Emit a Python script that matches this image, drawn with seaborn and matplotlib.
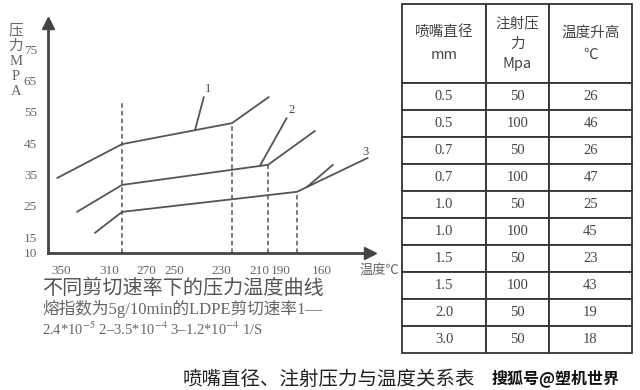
import matplotlib
matplotlib.use('Agg')
import matplotlib.pyplot as plt
import pandas as pd
import seaborn as sns

# ---- chart data (x in tick-index units along the temperature axis, y in MPa) ----
temp_labels = ['350', '310', '270', '250', '230', '210', '190', '160']
p_ticks = [15, 25, 35, 45, 55, 65, 75]

curve1_x = [-0.27, 1.50, 4.50, 5.50]
curve1_y = [33.9, 44.7, 51.4, 59.7]
curve2_x = [0.27, 1.50, 5.48, 6.76]
curve2_y = [23.1, 31.7, 38.1, 48.9]
curve3_x = [0.76, 1.50, 6.27, 8.20]
curve3_y = [16.4, 23.1, 29.5, 40.3]

# leader lines from each curve to its number
leader1_x, leader1_y = [3.49, 3.73], [49.2, 59.7]
leader2_x, leader2_y = [5.26, 5.99], [37.8, 53.0]
leader3_x, leader3_y = [6.54, 7.25], [31.0, 38.1]

# dashed drop lines at the break points
drop_x = [1.50, 4.50, 5.48, 6.27]
drop_top = [57.8, 51.4, 38.1, 29.5]

# ---- table data ----
headers = ['喷嘴直径\nmm', '注射压\n力\nMpa', '温度升高\n℃']
nozzle_d = ['0.5', '0.5', '0.7', '0.7', '1.0', '1.0', '1.5', '1.5', '2.0', '3.0']
inj_pressure = [50, 100, 50, 100, 50, 100, 50, 100, 50, 50]
temp_rise = [26, 46, 26, 47, 25, 45, 23, 43, 19, 18]

# layout only: where the temperature labels sit under the axis
label_pos = [-0.16, 1.14, 2.15, 2.92, 4.22, 5.26, 5.83, 6.95]

sns.set_style('white')
plt.rcParams['font.family'] = ['Liberation Serif', 'Noto Sans CJK SC', 'DejaVu Sans']
plt.rcParams['mathtext.fontset'] = 'stix'

cjk = ['Noto Sans CJK SC', 'DejaVu Sans']
serif_cjk = ['Liberation Serif', 'Noto Sans CJK SC', 'DejaVu Sans']
line_c = '#555555'
text_c = '#666666'

fig = plt.figure(figsize=(6.4, 3.9), dpi=100)

#================================#
# Pressure / temperature curves
#================================#
ax = fig.add_axes([0.075, 0.3513, 0.503, 0.5897])

parts = []
for uid, (xs, ys) in enumerate([(curve1_x, curve1_y), (curve2_x, curve2_y), (curve3_x, curve3_y),
                                (leader1_x, leader1_y), (leader2_x, leader2_y), (leader3_x, leader3_y)]):
    parts.append(pd.DataFrame({'x': xs, 'y': ys, 'unit': uid}))
lines_df = pd.concat(parts, ignore_index=True)

sns.lineplot(data=lines_df, x='x', y='y', units='unit', estimator=None,
             color=line_c, lw=1.3, legend=False, ax=ax)

ax.vlines(drop_x, 10, drop_top, colors=line_c, linestyles=(0, (3, 2)), lw=1.1)

# curve numbers
for n, (xs, ys) in enumerate([(leader1_x, leader1_y), (leader2_x, leader2_y)], start=1):
    ax.text(xs[1] + 0.12, ys[1] + 2.5, str(n), fontsize=9, color='#444', ha='center', va='center')
ax.text(curve3_x[-1] - 0.05, curve3_y[-1] + 2.0, '3', fontsize=9, color='#444', ha='center', va='center')

ax.set_xlim(-0.52, 8.26)
ax.set_ylim(10, 83.3)
ax.set_xlabel('')
ax.set_ylabel('')

sns.despine(ax=ax)
for s in ['left', 'bottom']:
    ax.spines[s].set_linewidth(2)
    ax.spines[s].set_color('#444')

# arrow heads on the axes
ax.plot([1], [0], '>', color='#444', ms=8, transform=ax.transAxes, clip_on=False)
ax.plot([0], [1], '^', color='#444', ms=8, transform=ax.transAxes, clip_on=False)

# x: tick marks point inward at regular spacing, labels sit a bit off
ax.set_xticks(range(len(temp_labels)), minor=True)
ax.set_xticks(label_pos)
ax.set_xticklabels(temp_labels)
ax.tick_params(axis='x', which='minor', direction='in', length=5, width=1.5, color='#444')
ax.tick_params(axis='x', which='major', length=0, pad=9, labelsize=9.5, labelcolor=text_c)

ax.set_yticks(p_ticks)
ax.set_yticklabels([str(v) for v in p_ticks])
ax.set_yticks([10], minor=True)
ax.set_yticklabels(['10'], minor=True)
ax.tick_params(axis='y', which='major', direction='out', length=7, width=1.5, color='#444',
               pad=1, labelsize=9.5, labelcolor=text_c)
ax.tick_params(axis='y', which='minor', length=0, pad=8, labelsize=9.5, labelcolor=text_c)

ax.text(1.03, -0.075, '温度℃', transform=ax.transAxes, fontsize=9.5, color=text_c,
        family=cjk, va='center', ha='center')

# stacked y-axis label
fig.text(16 / 640, 1 - 61 / 390, '压\n力\nM\nP\nA', ha='center', va='center',
         fontsize=10.5, linespacing=1.22, color=text_c, family=serif_cjk)

# captions under the chart
fig.text(42 / 640, 1 - 289 / 390, '不同剪切速率下的压力温度曲线', fontsize=14.5,
         color='#555', family=cjk, va='center', ha='left')
fig.text(42 / 640, 1 - 309 / 390, '熔指数为5g/10min的LDPE剪切速率1—', fontsize=12,
         color=text_c, family=serif_cjk, va='center', ha='left')
fig.text(42 / 640, 1 - 329 / 390, r'2.4*10$^{-5}$ 2–3.5*10$^{-4}$ 3–1.2*10$^{-4}$ 1/S',
         fontsize=10.5, color=text_c, family=serif_cjk, va='center', ha='left')

#================================#
# Nozzle / pressure / temperature table
#================================#
tax = fig.add_axes([402 / 640, 1 - 353 / 390, 230 / 640, 349 / 390])
tax.axis('off')

rows = [[d, str(p), str(t)] for d, p, t in zip(nozzle_d, inj_pressure, temp_rise)]
tbl = tax.table(cellText=rows, colLabels=headers, cellLoc='center',
                colWidths=[84, 63, 83], bbox=[0, 0, 1, 1])
tbl.auto_set_font_size(False)
tbl.set_fontsize(10.5)
for (r, c), cell in tbl.get_celld().items():
    cell.set_height(79 if r == 0 else 27)
    cell.set_edgecolor('#333')
    cell.set_linewidth(1.3)
    txt = cell.get_text()
    txt.set_color('#444')
    if r == 0:
        txt.set_fontfamily(cjk)
        txt.set_linespacing(1.75 if c != 1 else 1.6)
    else:
        txt.set_fontfamily(['Liberation Serif', 'DejaVu Serif'])

# bottom caption and watermark
fig.text(183 / 640, 1 - 379 / 390, '喷嘴直径、注射压力与温度关系表', fontsize=14,
         color='#222', family=cjk, va='center', ha='left')
fig.text(492 / 640, 1 - 378 / 390, '搜狐号@塑机世界', fontsize=11.5, fontweight='bold',
         color='#111', family=cjk, va='center', ha='left')

fig.savefig('out.png', dpi=100, facecolor='white')
